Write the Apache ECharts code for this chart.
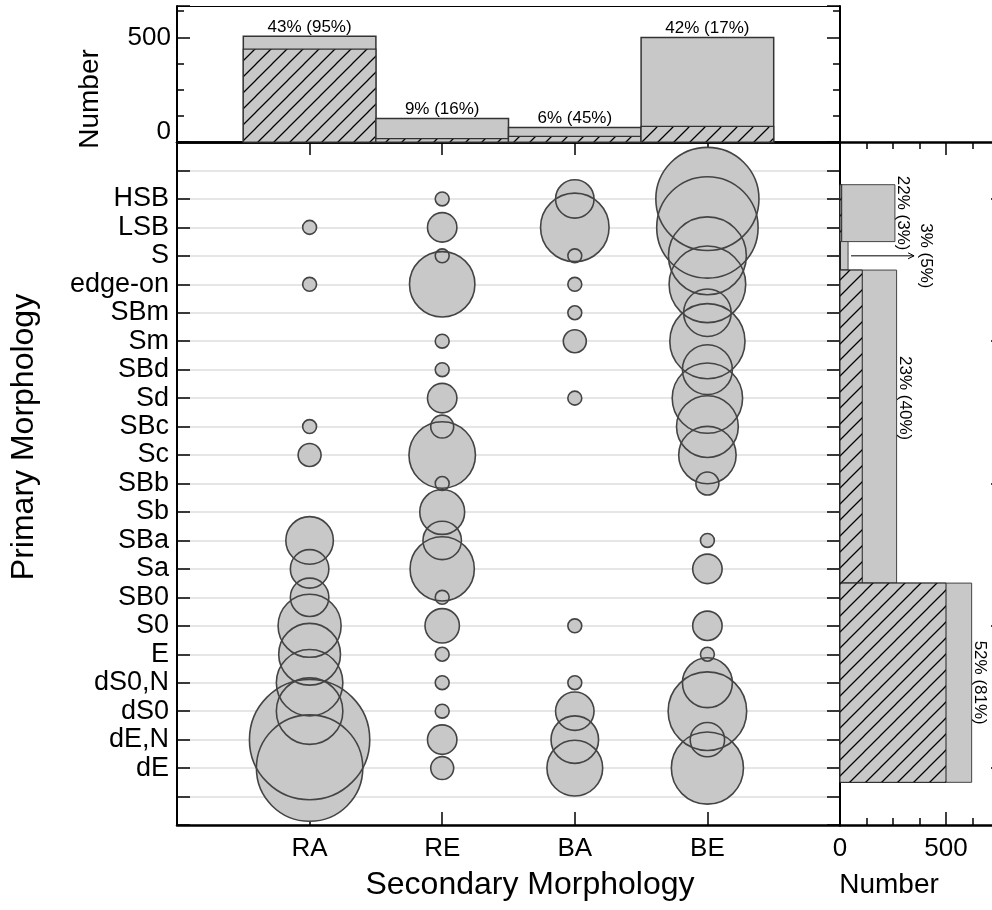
<!DOCTYPE html>
<html><head><meta charset="utf-8">
<script src="https://cdn.jsdelivr.net/npm/echarts@6/dist/echarts.min.js"></script>
<style>html,body{margin:0;padding:0;background:#fff}#c{width:992px;height:910px}</style>
</head><body><div id="c"></div><script>
// ---------------- data ----------------
const primaryRows = ['HSB','LSB','S','edge-on','SBm','Sm','SBd','Sd','SBc','Sc','SBb','Sb','SBa','Sa','SB0','S0','E','dS0,N','dS0','dE,N','dE'];
const secondaryCols = ['RA','RE','BA','BE'];
// bubble counts per primary row (same order as primaryRows)
const countRA = [0,1,0,1,0,0,0,0,1,2,0,0,8,5,5,17,16,20,20,232,124];
const countRE = [1,3,1,19,0,1,1,3,2,20,1,7,5,18,1,4,1,1,1,3,2];
const countBA = [5,22,1,1,1,2,0,1,0,0,0,0,0,0,0,1,0,1,5,8,12];
const countBE = [107,99,34,32,8,30,9,24,16,13,2,0,1,3,0,3,1,9,35,4,26];
// top histogram (per secondary class)
const topTotal = [505,112,69,500];
const topHatched = [444,16,27,75];
const topLabels = ['43% (95%)','9% (16%)','6% (45%)','42% (17%)'];
// side histogram (groups of primary rows)
const sideGroups = [['HSB','LSB'],['S','S'],['edge-on','Sa'],['SB0','dE']];
const sideTotal = [259,38,267,621];
const sideHatched = [8,2,105,500];
const sideLabels = ['22% (3%)','3% (5%)','23% (40%)','52% (81%)'];
const numberTickLabels = [0,500];
const sideRightTicks = [1,6,11,16,21];

// ---------------- style ----------------
const FONT = '"Liberation Sans", Arial, Helvetica, sans-serif';
const GRAY = '#c8c8c8';
const sideLabelRowShift = [0,0,1,0];   // label placement tweak (rows)
const sideArrowLen = {1: 66};          // callout arrow for tiny bar

function makeHatch(){
  const s = 16, c = document.createElement('canvas');
  c.width = s; c.height = s;
  const g = c.getContext('2d');
  g.fillStyle = GRAY; g.fillRect(0,0,s,s);
  g.strokeStyle = '#000'; g.lineWidth = 1.25;
  g.beginPath();
  g.moveTo(-2, s+2); g.lineTo(s+2, -2);
  g.moveTo(-6, 6); g.lineTo(6, -6);
  g.moveTo(s-6, s+6); g.lineTo(s+6, s-6);
  g.stroke();
  return c;
}
const hatch = {image: makeHatch(), repeat: 'repeat'};

const rowValue = name => primaryRows.length - primaryRows.indexOf(name);

const bubbleData = [];
[countRA, countRE, countBA, countBE].forEach((arr, ci) => {
  arr.forEach((n, ri) => { if (n > 0) bubbleData.push([ci + 1, primaryRows.length - ri, n]); });
});
const bubbleSize = v => 51.5 * Math.log10(v[2] + 1) - 1.6;

const topData = topTotal.map((t, i) => [i + 1, t, topHatched[i]]);
const sideData = sideGroups.map((g, i) => [rowValue(g[0]) + 0.5, rowValue(g[1]) - 0.5, sideTotal[i], sideHatched[i]]);

function renderTop(params, api){
  const i = params.dataIndex;
  const x = api.value(0), tot = api.value(1), hat = api.value(2);
  const a = api.coord([x - 0.5, 0]);
  const b = api.coord([x + 0.5, tot]);
  const h = api.coord([x + 0.5, hat]);
  const w = b[0] - a[0];
  return {type:'group', children:[
    {type:'rect', shape:{x:a[0], y:b[1], width:w, height:a[1]-b[1]}, style:{fill:GRAY, stroke:'#333', lineWidth:1.5}},
    {type:'rect', shape:{x:a[0], y:h[1], width:w, height:a[1]-h[1]}, style:{fill:hatch, stroke:'#333', lineWidth:1.2}},
    {type:'text', style:{text:topLabels[i], x:(a[0]+b[0])/2, y:b[1]-1, align:'center', verticalAlign:'bottom',
      textAlign:'center', textVerticalAlign:'bottom', font:'17px ' + FONT, fill:'#000'}}
  ]};
}

function renderSide(params, api){
  const i = params.dataIndex;
  const yTop = api.value(0), yBot = api.value(1), tot = api.value(2), hat = api.value(3);
  const a = api.coord([0, yTop]);
  const b = api.coord([tot, yBot]);
  const h = api.coord([hat, yBot]);
  const rowH = api.size([0, 1])[1];
  const yc = (a[1] + b[1]) / 2 - sideLabelRowShift[i] * rowH;
  const children = [
    {type:'rect', shape:{x:a[0], y:a[1], width:b[0]-a[0], height:b[1]-a[1]}, style:{fill:GRAY, stroke:'#444', lineWidth:1}},
    {type:'rect', shape:{x:a[0], y:a[1], width:h[0]-a[0], height:b[1]-a[1]}, style:{fill:hatch, stroke:'#222', lineWidth:1}}
  ];
  let tx = b[0] + 8;
  if (sideArrowLen[i]) {
    const x0 = b[0] + 3, x1 = b[0] + sideArrowLen[i];
    children.push({type:'line', shape:{x1:x0, y1:yc, x2:x1, y2:yc}, style:{stroke:'#000', lineWidth:1}});
    children.push({type:'polyline', shape:{points:[[x1-6, yc-3], [x1, yc], [x1-6, yc+3]]}, style:{stroke:'#000', lineWidth:1, fill:null}});
    tx = x1 + 12;
  }
  children.push({type:'text', x:tx, y:yc, rotation:-Math.PI/2,
    style:{text:sideLabels[i], x:0, y:0, align:'center', verticalAlign:'middle', textAlign:'center', textVerticalAlign:'middle',
      font:'17px ' + FONT, fill:'#000'}});
  return {type:'group', children};
}

const lineBlack = w => ({show:true, onZero:false, lineStyle:{color:'#000', width:w}});
const noLine = {show:false, onZero:false};
const ticksIn = (len, extra) => Object.assign({show:true, inside:true, length:len, lineStyle:{color:'#000', width:1.5}}, extra || {});
const off = {show:false};
const lbl = (size, extra) => Object.assign({show:true, color:'#000', fontFamily:FONT, fontSize:size}, extra);

const option = {
  animation:false,
  backgroundColor:'#fff',
  grid:[
    {left:177, right:152, top:6, height:136, outerBoundsMode:'none', containLabel:false},
    {left:177, right:152, top:142, bottom:85, outerBoundsMode:'none', containLabel:false},
    {left:840, right:-7, top:142, bottom:85, outerBoundsMode:'none', containLabel:false}
  ],
  xAxis:[
    {type:'value', gridIndex:0, position:'bottom', min:0, max:5, axisLine:lineBlack(2.5), axisTick:off, axisLabel:off, splitLine:off},
    {type:'value', gridIndex:0, position:'top', min:0, max:5, axisLine:lineBlack(1.2), axisTick:off, axisLabel:off, splitLine:off},
    {type:'value', gridIndex:1, position:'bottom', min:0, max:5, interval:1, axisLine:lineBlack(2.5), axisTick:ticksIn(13),
      axisLabel:lbl(26, {margin:11, formatter: v => secondaryCols[v - 1] || ''}), splitLine:off},
    {type:'value', gridIndex:1, position:'top', min:0, max:5, interval:1, axisLine:lineBlack(2.5), axisTick:ticksIn(13), axisLabel:off, splitLine:off},
    {type:'value', gridIndex:2, position:'bottom', min:0, max:750, interval:125, axisLine:lineBlack(2.5), axisTick:ticksIn(7),
      axisLabel:lbl(26, {margin:11, formatter: v => numberTickLabels.includes(v) ? String(v) : ''}), splitLine:off},
    {type:'value', gridIndex:2, position:'bottom', min:0, max:750, interval:500, axisLine:noLine, axisTick:ticksIn(13), axisLabel:off, splitLine:off},
    {type:'value', gridIndex:2, position:'top', min:0, max:750, interval:125, axisLine:lineBlack(2.5), axisTick:ticksIn(7), axisLabel:off, splitLine:off},
    {type:'value', gridIndex:2, position:'top', min:0, max:750, interval:500, axisLine:noLine, axisTick:ticksIn(13), axisLabel:off, splitLine:off}
  ],
  yAxis:[
    {type:'value', gridIndex:0, position:'left', min:0, max:650, interval:125, axisLine:lineBlack(2), axisTick:ticksIn(7),
      axisLabel:lbl(26, {margin:6, formatter: v => v === 0 ? '{z|0}' : (numberTickLabels.includes(v) ? String(v) : ''),
        rich:{z:{fontSize:26, fontFamily:FONT, color:'#000', padding:[0,0,20,0]}}}), splitLine:off},
    {type:'value', gridIndex:0, position:'left', min:0, max:650, interval:500, axisLine:noLine, axisTick:ticksIn(13), axisLabel:off, splitLine:off},
    {type:'value', gridIndex:0, position:'right', min:0, max:650, interval:125, axisLine:lineBlack(2), axisTick:ticksIn(7), axisLabel:off, splitLine:off},
    {type:'value', gridIndex:0, position:'right', min:0, max:650, interval:500, axisLine:noLine, axisTick:ticksIn(13), axisLabel:off, splitLine:off},
    {type:'value', gridIndex:1, position:'left', min:-1, max:23, interval:1, axisLine:lineBlack(2), axisTick:ticksIn(13),
      axisLabel:lbl(27, {margin:8, formatter: v => (v >= 1 && v <= primaryRows.length) ? primaryRows[primaryRows.length - v] : ''}),
      splitLine:{show:true, lineStyle:{color:'#e6e6e6', width:2}}},
    {type:'value', gridIndex:1, position:'right', min:-1, max:23, interval:1, axisLine:lineBlack(2), axisTick:ticksIn(13), axisLabel:off, splitLine:off},
    {type:'value', gridIndex:2, position:'left', min:-1, max:23, show:false, axisLine:noLine},
    {type:'value', gridIndex:2, position:'right', min:-1, max:23, axisLine:lineBlack(2),
      axisTick:ticksIn(8, {customValues: sideRightTicks}), axisLabel:off, splitLine:off}
  ],
  graphic:[
    {type:'text', x:90, y:99, rotation:Math.PI/2, style:{text:'Number', x:0, y:0, align:'center', verticalAlign:'middle', textAlign:'center', textVerticalAlign:'middle', font:'28px ' + FONT, fill:'#000'}},
    {type:'text', x:24, y:437, rotation:Math.PI/2, style:{text:'Primary Morphology', x:0, y:0, align:'center', verticalAlign:'middle', textAlign:'center', textVerticalAlign:'middle', font:'32px ' + FONT, fill:'#000'}},
    {type:'text', x:530, y:885, style:{text:'Secondary Morphology', x:0, y:0, align:'center', verticalAlign:'middle', textAlign:'center', textVerticalAlign:'middle', font:'32px ' + FONT, fill:'#000'}},
    {type:'text', x:889, y:885, style:{text:'Number', x:0, y:0, align:'center', verticalAlign:'middle', textAlign:'center', textVerticalAlign:'middle', font:'28px ' + FONT, fill:'#000'}}
  ],
  series:[
    {type:'scatter', xAxisIndex:2, yAxisIndex:4, data:bubbleData, symbol:'circle', symbolSize:bubbleSize, silent:true,
      itemStyle:{color:GRAY, borderWidth:0, opacity:1}, z:3},
    {type:'scatter', xAxisIndex:2, yAxisIndex:4, data:bubbleData, symbol:'circle', symbolSize:bubbleSize, silent:true,
      itemStyle:{color:'rgba(0,0,0,0)', borderColor:'#444', borderWidth:1.6, opacity:1}, z:4},
    {type:'custom', xAxisIndex:0, yAxisIndex:0, data:topData, renderItem:renderTop, silent:true, z:3},
    {type:'custom', xAxisIndex:4, yAxisIndex:6, data:sideData, renderItem:renderSide, silent:true, z:3, clip:false}
  ]
};
const chart = echarts.init(document.getElementById('c'), null, {renderer:'canvas'});
chart.setOption(option);
</script></body></html>
